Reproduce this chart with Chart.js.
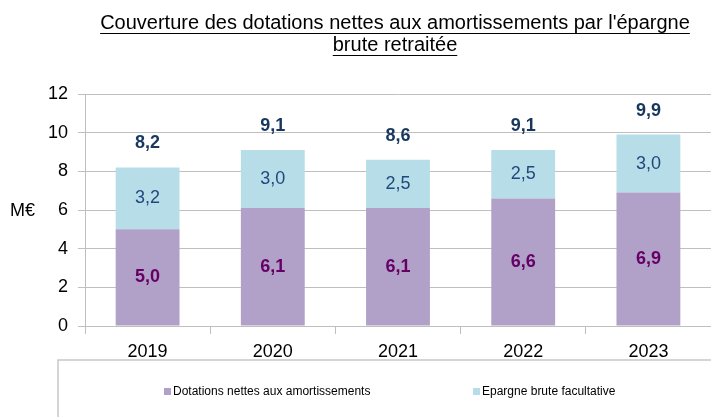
<!DOCTYPE html>
<html lang="fr">
<head>
<meta charset="UTF-8">
<title>Couverture des dotations nettes aux amortissements</title>
<script src="https://cdn.jsdelivr.net/npm/chart.js"></script>
<style>
  html, body { margin: 0; padding: 0; background: #fff; }
  #wrap { width: 711px; height: 417px; }
</style>
</head>
<body>
<div id="wrap"><canvas id="chart" width="711" height="417"></canvas></div>
<script>
// values (M€)
const years = ['2019', '2020', '2021', '2022', '2023'];
const dotations = [5.0, 6.1, 6.1, 6.6, 6.9];
const epargne = [3.2, 3.0, 2.5, 2.5, 3.0];
const totals = [8.2, 9.1, 8.6, 9.1, 9.9];
const seriesNames = ['Dotations nettes aux amortissements', 'Epargne brute facultative'];
const titleLines = ["Couverture des dotations nettes aux amortissements par l'épargne", 'brute retraitée'];
const yMin = 0, yMax = 12, yStep = 2;

const FONT = '"Liberation Sans", Arial, sans-serif';
const fmt = v => v.toFixed(1).replace('.', ',');

// value labels on the bars + totals above
const labelsPlugin = {
    id: 'labels',
    afterDatasetsDraw(chart) {
        const ctx = chart.ctx;
        const ys = chart.scales.y;
        const m0 = chart.getDatasetMeta(0);
        const m1 = chart.getDatasetMeta(1);
        ctx.save();
        ctx.textAlign = 'center';
        ctx.textBaseline = 'middle';
        m0.data.forEach((bar, i) => {
            ctx.font = 'bold 18px ' + FONT;
            ctx.fillStyle = '#660066';
            ctx.fillText(fmt(dotations[i]), bar.x, (bar.y + bar.base) / 2);

            const top = m1.data[i];
            ctx.font = '18px ' + FONT;
            ctx.fillStyle = '#1F497D';
            ctx.fillText(fmt(epargne[i]), top.x, (top.y + top.base) / 2);

            ctx.font = 'bold 18px ' + FONT;
            ctx.fillStyle = '#17375E';
            ctx.fillText(fmt(totals[i]), top.x, ys.getPixelForValue(totals[i]) - 24);
        });
        ctx.restore();
    }
};

// title (underlined), unit label and the legend box
const decoPlugin = {
    id: 'deco',
    afterDraw(chart) {
        const ctx = chart.ctx;
        ctx.save();
        ctx.fillStyle = '#000';
        ctx.strokeStyle = '#000';
        ctx.lineWidth = 1;
        ctx.textBaseline = 'middle';
        ctx.textAlign = 'center';
        ctx.font = '20px ' + FONT;
        const cx = 395;
        [23, 45].forEach((y, k) => {
            const w = ctx.measureText(titleLines[k]).width;
            ctx.fillText(titleLines[k], cx, y);
            ctx.beginPath();
            ctx.moveTo(cx - w / 2, y + 10.5);
            ctx.lineTo(cx + w / 2, y + 10.5);
            ctx.stroke();
        });

        ctx.font = '18px ' + FONT;
        ctx.textAlign = 'left';
        ctx.fillText('M€', 10, 211);

        // legend frame
        ctx.strokeStyle = '#C8C8C8';
        ctx.lineWidth = 1.5;
        ctx.strokeRect(58, 360, 700, 100);

        ctx.font = '12px ' + FONT;
        ctx.textAlign = 'left';
        const lx = [164, 473];
        chart.data.datasets.forEach((ds, i) => {
            ctx.fillStyle = ds.backgroundColor;
            ctx.fillRect(lx[i], 388, 7, 7);
            ctx.fillStyle = '#000';
            ctx.fillText(ds.label, lx[i] + 9, 391.5);
        });
        ctx.restore();
    }
};

new Chart(document.getElementById('chart'), {
    type: 'bar',
    data: {
        labels: years,
        datasets: [
            { label: seriesNames[0], data: dotations, backgroundColor: '#B1A0C7' },
            { label: seriesNames[1], data: epargne, backgroundColor: '#B7DEE8' }
        ]
    },
    options: {
        responsive: false,
        animation: false,
        categoryPercentage: 1,
        barPercentage: 0.51,
        layout: { padding: { top: 94, bottom: 57, left: 0, right: -4 } },
        plugins: {
            legend: { display: false },
            tooltip: { enabled: false }
        },
        scales: {
            x: {
                stacked: true,
                afterFit(s) { s.height = 34; },
                grid: { drawOnChartArea: false, color: '#BFBFBF', tickLength: 8 },
                border: { color: '#BFBFBF' },
                ticks: { color: '#000', padding: 7, font: { family: FONT, size: 18 } }
            },
            y: {
                stacked: true,
                min: yMin,
                max: yMax,
                afterFit(s) { s.width = 85; },
                grid: { color: '#BFBFBF', tickLength: 7 },
                border: { color: '#BFBFBF' },
                ticks: { stepSize: yStep, color: '#000', padding: 10, font: { family: FONT, size: 18 } }
            }
        }
    },
    plugins: [labelsPlugin, decoPlugin]
});
</script>
</body>
</html>
